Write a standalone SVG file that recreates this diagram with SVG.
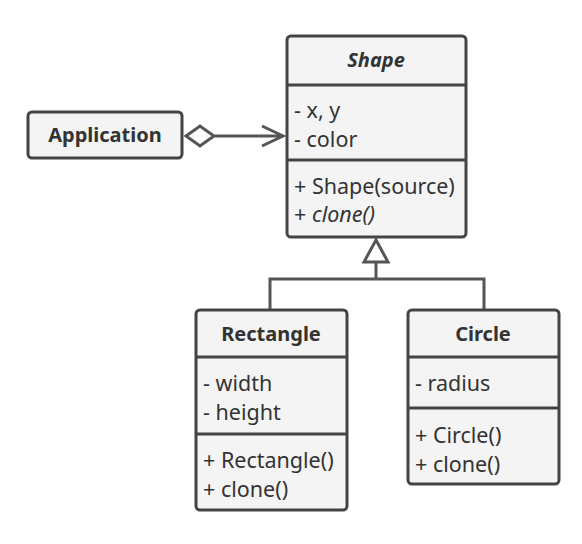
<svg xmlns="http://www.w3.org/2000/svg" width="582" height="544" viewBox="0 0 582 544">
<style>
.box{fill:#f4f4f4;stroke:#444;stroke-width:3}
.sep{stroke:#444;stroke-width:3;fill:none}
.line{stroke:#555;stroke-width:3;fill:none}
text{font-family:"Noto Sans","Open Sans",sans-serif;font-size:21.5px;fill:#333}
.title{font-weight:bold;text-anchor:middle;font-size:20px}
</style>
<rect width="582" height="544" fill="#fff"/>
<g id="connectors">
<line class="line" x1="215" y1="136" x2="283" y2="136"/>
<polyline class="line" points="262,126 283,136 262,146"/>
<polygon points="186,136 200,126 214,136 200,146" fill="#fff" stroke="#555" stroke-width="3"/>
<polyline class="line" points="270,310 270,279 484,279 484,310"/>
<line class="line" x1="376" y1="262" x2="376" y2="279"/>
<polygon points="376,240 364,262 388,262" fill="#fff" stroke="#555" stroke-width="3"/>
</g>
<g id="application">
<rect class="box" x="28" y="112" width="154" height="46" rx="4"/>
<text class="title" x="105" y="142">Application</text>
</g>
<g id="shape">
<rect class="box" x="287" y="36" width="179" height="201" rx="4"/>
<line class="sep" x1="287" y1="85" x2="466" y2="85"/>
<line class="sep" x1="287" y1="160" x2="466" y2="160"/>
<text class="title" x="376" y="67" font-style="italic">Shape</text>
<text x="294" y="118">- x, y</text>
<text x="294" y="147">- color</text>
<text x="294" y="194">+ Shape(source)</text>
<text x="294" y="222">+ <tspan font-style="italic">clone()</tspan></text>
</g>
<g id="rectangle">
<rect class="box" x="196" y="310" width="151" height="200" rx="4"/>
<line class="sep" x1="196" y1="357" x2="347" y2="357"/>
<line class="sep" x1="196" y1="434" x2="347" y2="434"/>
<text class="title" x="271" y="341">Rectangle</text>
<text x="203" y="391">- width</text>
<text x="203" y="420">- height</text>
<text x="203" y="468">+ Rectangle()</text>
<text x="203" y="497">+ clone()</text>
</g>
<g id="circle">
<rect class="box" x="408" y="310" width="151" height="174" rx="4"/>
<line class="sep" x1="408" y1="357" x2="559" y2="357"/>
<line class="sep" x1="408" y1="408" x2="559" y2="408"/>
<text class="title" x="483" y="341">Circle</text>
<text x="415" y="391">- radius</text>
<text x="415" y="443">+ Circle()</text>
<text x="415" y="472">+ clone()</text>
</g>
</svg>
